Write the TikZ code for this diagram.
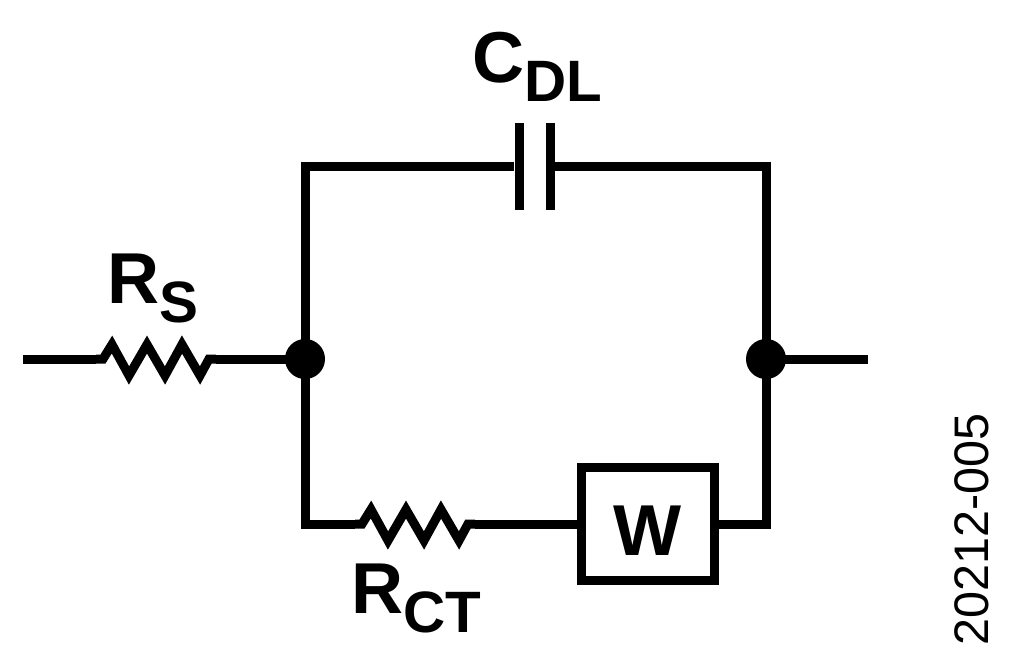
\documentclass[tikz,border=0pt]{standalone}
\usepackage{fontspec}
\setmainfont{Liberation Sans}
\newcommand{\labelsub}[1]{{\fontsize{16.6}{18}\selectfont\raisebox{-0.19cm}{#1}}}
\tikzset{
  wire/.style = {line width = 0.09cm, miter limit = 10},
  junction/.style = {circle, fill = black, inner sep = 0, minimum size = 0.4cm},
  plate/.style = {fill = black, inner sep = 0, minimum width = 0.09cm, minimum height = 0.87cm},
  wbox/.style = {draw, line width = 0.09cm, inner sep = 0, minimum width = 1.32cm, minimum height = 1.12cm},
  partlabel/.style = {anchor = base west, inner sep = 0, font = \fontsize{20.5}{22}\selectfont\bfseries},
  resistor/.pic = {
    \draw[wire] (-60, 0) coordinate (-left) -- (-53, 0) -- (-44, -14.5) -- (-27, 16.5) -- (-9, -14.5)
      -- (9, 16.5) -- (26, -14.5) -- (44, 16.5) -- (53, 0) -- (60, 0) coordinate (-right);
  }
}
\begin{document}
\begin{tikzpicture}[x = 0.01cm, y = -0.01cm]
\useasboundingbox (0, 0) rectangle (1024, 663);

\node[junction] (jleft) at (305, 359) {};
\node[junction] (jright) at (766, 359) {};
\coordinate (inlead) at (23, 359);
\coordinate (outlead) at (868, 359);

\pic (rs) at (156, 359) {resistor};
\pic (rct) at (415, 524) {resistor};
\node[wbox] (war) at (648, 524) {};
\node[plate] (capleft) at (519, 166.5) {};
\node[plate] (capright) at (550, 166.5) {};

% input and output leads
\draw[wire] (inlead) -- (rs-left);
\draw[wire] (rs-right) -- (jleft.center);
\draw[wire] (jright.center) -- (outlead);

% upper branch
\draw[wire] (jleft.center) |- (capleft);
\draw[wire] (capright) -| (jright.center);

% lower branch
\draw[wire] (jleft.center) |- (rct-left);
\draw[wire] (rct-right) -- (war);
\draw[wire] (war) -| (jright.center);

\node[partlabel] (rslabel) at (107, 303) {R\labelsub{S}};
\node[partlabel] (rctlabel) at (351, 613) {R\labelsub{CT}};
\node[partlabel] (cdllabel) at (472, 82) {C\labelsub{DL}};
\node[partlabel, anchor = base] (wlabel) at (648, 555) {W};
\node[rotate = 90, anchor = base west, inner sep = 0, font = \fontsize{13.8}{15}\selectfont] (figlabel)
  at (988, 646) {20212-005};

\end{tikzpicture}
\end{document}
